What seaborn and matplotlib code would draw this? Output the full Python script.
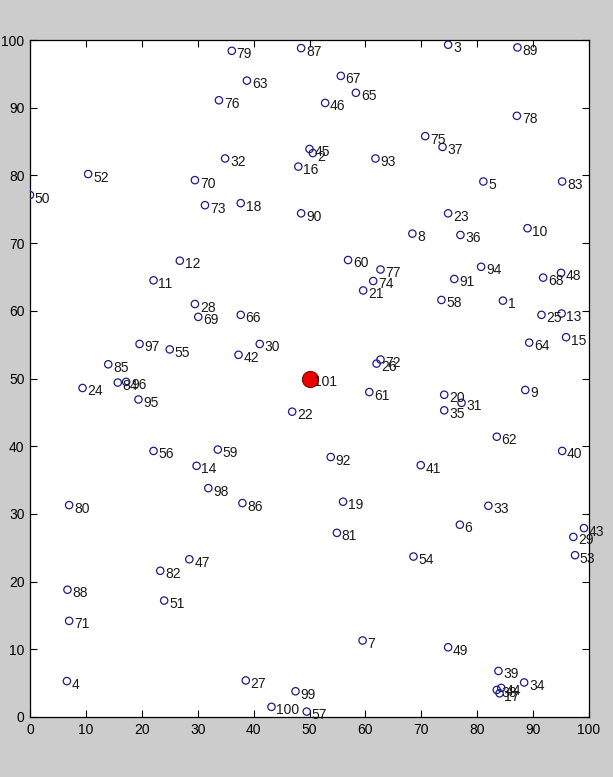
import matplotlib
matplotlib.use("Agg")
import matplotlib.pyplot as plt
import seaborn as sns
import pandas as pd

# Node positions (id 1..100) and the centre node 101
node_ids = list(range(1, 101))
node_x = [84.6, 50.6, 74.8, 6.6, 81.1, 76.9, 59.5, 68.4, 88.6, 89.0,
          22.1, 26.8, 95.1, 29.8, 95.9, 48.0, 84.0, 37.7, 56.0, 74.1,
          59.6, 46.9, 74.8, 9.4, 91.5, 62.0, 38.6, 29.5, 97.2, 41.1,
          77.2, 34.9, 82.0, 88.4, 74.1, 77.0, 73.8, 83.5, 83.8, 95.2,
          69.9, 37.3, 99.1, 84.3, 50.0, 52.8, 28.5, 95.0, 74.8, 0.0,
          24.0, 10.4, 97.5, 68.6, 25.0, 22.1, 49.5, 73.6, 33.6, 56.9,
          60.7, 83.5, 38.8, 89.3, 58.3, 37.7, 55.6, 91.8, 30.1, 29.5,
          7.0, 62.7, 31.3, 61.4, 70.7, 33.8, 62.7, 87.1, 36.1, 7.0,
          54.9, 23.3, 95.2, 15.7, 14.0, 38.0, 48.5, 6.7, 87.2, 48.5,
          75.9, 53.8, 61.8, 80.7, 19.4, 17.2, 19.6, 31.9, 47.5, 43.2]
node_y = [61.5, 83.3, 99.3, 5.3, 79.1, 28.4, 11.3, 71.4, 48.3, 72.2,
          64.5, 67.4, 59.6, 37.1, 56.1, 81.3, 3.5, 75.9, 31.8, 47.6,
          63.0, 45.1, 74.4, 48.6, 59.4, 52.2, 5.4, 61.0, 26.6, 55.1,
          46.4, 82.5, 31.2, 5.1, 45.3, 71.2, 84.2, 4.0, 6.8, 39.3,
          37.2, 53.5, 27.9, 4.3, 83.9, 90.7, 23.3, 65.6, 10.3, 77.1,
          17.2, 80.2, 23.9, 23.7, 54.3, 39.3, 0.8, 61.6, 39.5, 67.5,
          48.0, 41.4, 94.0, 55.3, 92.2, 59.4, 94.7, 64.9, 59.1, 79.3,
          14.2, 52.8, 75.6, 64.4, 85.8, 91.1, 66.1, 88.8, 98.4, 31.3,
          27.2, 21.6, 79.1, 49.4, 52.1, 31.6, 98.8, 18.8, 98.9, 74.4,
          64.7, 38.4, 82.5, 66.5, 46.9, 49.5, 55.1, 33.8, 3.8, 1.5]
center_id = 101
center_x = 50.0
center_y = 50.0

x_ticks = [0, 10, 20, 30, 40, 50, 60, 70, 80, 90, 100]
y_ticks = [0, 10, 20, 30, 40, 50, 60, 70, 80, 90, 100]

nodes = pd.DataFrame({"id": node_ids, "x": node_x, "y": node_y})
center = pd.DataFrame({"id": [center_id], "x": [center_x], "y": [center_y]})

sns.set_style("white")
plt.rcParams["font.family"] = ["Liberation Sans Narrow", "Liberation Sans", "DejaVu Sans"]

fig = plt.figure(figsize=(6.13, 7.77), dpi=100, facecolor="#cccccc")
ax = fig.add_axes([30 / 613, 60 / 777, 559 / 613, 677 / 777])
ax.set_facecolor("white")

sns.scatterplot(data=nodes, x="x", y="y", ax=ax, marker="o", s=28,
                facecolor="none", edgecolor="#1c1c8a", linewidth=0.9,
                legend=False, zorder=3)
sns.scatterplot(data=center, x="x", y="y", ax=ax, marker="o", s=135,
                color="#ee0000", edgecolor="#8a0000", linewidth=0.8,
                legend=False, zorder=4)

for _, r in pd.concat([nodes, center]).iterrows():
    ax.annotate(str(int(r["id"])), (r["x"], r["y"]), xytext=(3.5, -2.5),
                textcoords="offset points", ha="left", va="center",
                fontsize=10, color="#1a1a1a", zorder=5)

ax.set_xlim(0, 100)
ax.set_ylim(0, 100)
ax.set_xticks(x_ticks)
ax.set_yticks(y_ticks)
ax.set_xticklabels([str(t) for t in x_ticks])
ax.set_yticklabels([str(t) for t in y_ticks])
ax.set_xlabel("")
ax.set_ylabel("")
ax.tick_params(axis="both", which="both", direction="in", length=5,
               width=0.8, color="black", labelsize=10, labelcolor="black",
               top=True, right=True, bottom=True, left=True, pad=4)
for sp in ax.spines.values():
    sp.set_visible(True)
    sp.set_color("black")
    sp.set_linewidth(0.9)

fig.savefig("out.png", dpi=100, facecolor=fig.get_facecolor())
